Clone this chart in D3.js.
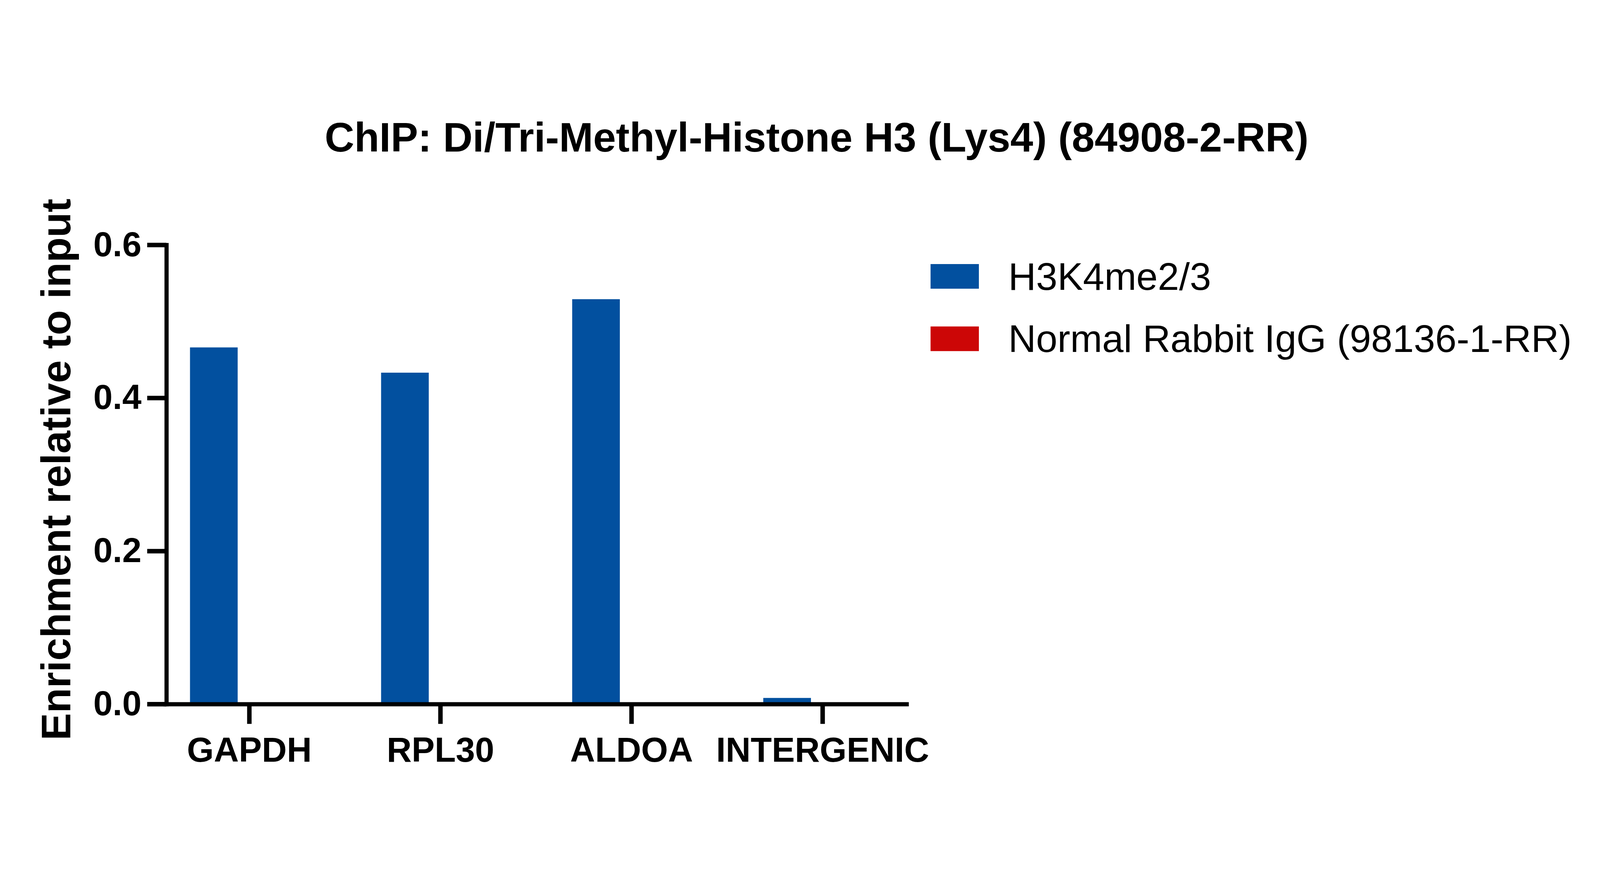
<!DOCTYPE html>
<html>
<head>
<meta charset="utf-8">
<script src="https://cdn.jsdelivr.net/npm/d3@7"></script>
<style>
  html, body { margin: 0; padding: 0; background: #fff; overflow: hidden; }
  svg { display: block; width: 100vw; height: 100vh; }
  svg text { font-family: "Liberation Sans", Arial, sans-serif; fill: #000; }
</style>
</head>
<body>
<div id="chart"></div>
<script>
const categories = ["GAPDH", "RPL30", "ALDOA", "INTERGENIC"];
const seriesNames = ["H3K4me2/3", "Normal Rabbit IgG (98136-1-RR)"];
const h3k4Values = [0.466, 0.433, 0.529, 0.008];
const iggValues = [0, 0, 0, 0];
const yTicks = [0, 0.2, 0.4, 0.6];
const titleText = "ChIP: Di/Tri-Methyl-Histone H3 (Lys4) (84908-2-RR)";
const yLabel = "Enrichment relative to input";

const colors = ["#02509f", "#cc0606"];

// drawn in the reference's 5000x2240 space, scaled to the window
const width = 5000;
const height = 2240;

const rows = categories.map((c, i) => ({
  cat: c,
  values: [h3k4Values[i], iggValues[i]]
}));

const svg = d3
  .select("#chart")
  .append("svg")
  .attr("viewBox", `0 0 ${width} ${height}`)
  .attr("preserveAspectRatio", "xMidYMid meet");

const x = d3.scalePoint().domain(categories).range([516, 2833]).padding(0.44);
const xSub = d3.scaleBand().domain(seriesNames).range([-185, 185]).paddingInner(0.326);
const y = d3.scaleLinear().domain([0, 0.6]).range([1953, 518]);

// bars
const groups = svg
  .append("g")
  .selectAll("g")
  .data(rows)
  .enter()
  .append("g")
  .attr("transform", d => "translate(" + x(d.cat) + ",0)");

groups
  .selectAll("rect")
  .data(d => d.values.map((v, i) => ({ name: seriesNames[i], v: v, i: i })))
  .enter()
  .append("rect")
  .attr("x", d => xSub(d.name))
  .attr("width", xSub.bandwidth())
  .attr("y", d => y(d.v))
  .attr("height", d => y(0) - y(d.v))
  .attr("fill", d => colors[d.i]);

// y axis
const yAxis = svg
  .append("g")
  .attr("transform", "translate(520,0)")
  .call(
    d3.axisLeft(y)
      .tickValues(yTicks)
      .tickFormat(d3.format(".1f"))
      .tickSize(60)
      .tickSizeOuter(0)
      .tickPadding(18)
  );

// x axis
const xAxis = svg
  .append("g")
  .attr("transform", "translate(0,1953)")
  .call(d3.axisBottom(x).tickSize(62).tickSizeOuter(0));

[yAxis, xAxis].forEach(g => {
  g.select(".domain")
    .attr("stroke", "#000")
    .attr("stroke-width", 13)
    .attr("stroke-linecap", "square");
  g.selectAll(".tick line").attr("stroke", "#000").attr("stroke-width", 14);
  g.selectAll("text")
    .attr("font-family", "'Liberation Sans', Arial, sans-serif")
    .attr("font-size", 108)
    .attr("font-weight", "bold")
    .attr("fill", "#000");
});

xAxis.selectAll(".tick text").attr("y", 180).attr("dy", null);

// title
svg
  .append("text")
  .attr("x", 2552)
  .attr("y", 226)
  .attr("text-anchor", "middle")
  .attr("font-size", 128)
  .attr("font-weight", "bold")
  .text(titleText);

// y label
svg
  .append("text")
  .attr("transform", "translate(220,1220) rotate(-90)")
  .attr("text-anchor", "middle")
  .attr("font-size", 128)
  .attr("font-weight", "bold")
  .text(yLabel);

// legend
const legend = svg
  .append("g")
  .selectAll("g")
  .data(seriesNames)
  .enter()
  .append("g")
  .attr("transform", (d, i) => "translate(2908," + (578 + i * 195) + ")");

legend
  .append("rect")
  .attr("width", 151)
  .attr("height", 77)
  .attr("fill", (d, i) => colors[i]);

legend
  .append("text")
  .attr("x", 243)
  .attr("y", 80)
  .attr("font-size", 120)
  .text(d => d);
</script>
</body>
</html>
